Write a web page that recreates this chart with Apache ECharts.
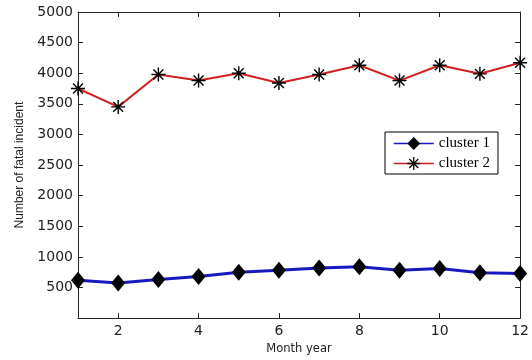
<!DOCTYPE html>
<html>
<head>
<meta charset="utf-8">
<script src="https://cdn.jsdelivr.net/npm/echarts@6/dist/echarts.min.js"></script>
<style>html,body{margin:0;padding:0;background:#fff;}#c{width:532px;height:360px;}</style>
</head>
<body>
<div id="c"></div>
<script>
var months = ['1','2','3','4','5','6','7','8','9','10','11','12'];
var cluster1 = [620, 575, 630, 680, 750, 780, 820, 840, 780, 810, 740, 730];
var cluster2 = [3750, 3450, 3980, 3880, 4000, 3840, 3980, 4130, 3880, 4130, 3990, 4170];
var yTicks = {min: 0, max: 5000, interval: 500};

var starPath = 'path://M-1,-10L1,-10L1,10L-1,10Z M-10,-1L10,-1L10,1L-10,1Z ' +
  'M-6.36,-7.78L7.78,6.36L6.36,7.78L-7.78,-6.36Z ' +
  'M-6.36,7.78L-7.78,6.36L6.36,-7.78L7.78,-6.36Z';

var axisColor = '#222';
var blue = '#1818c0', red = '#d02020';
var evenOnly = function (i) { return i % 2 === 1; };

var chart = echarts.init(document.getElementById('c'), null, {renderer: 'canvas'});
chart.setOption({
  animation: false,
  backgroundColor: '#fff',
  grid: {left: 78, right: 11, top: 12, bottom: 35, containLabel: false},
  legend: {
    orient: 'vertical',
    left: 385, top: 132,
    padding: [4, 8, 3, 8],
    itemGap: 5,
    itemWidth: 40, itemHeight: 16,
    backgroundColor: '#fff',
    borderColor: '#000', borderWidth: 1, borderRadius: 0,
    textStyle: {fontFamily: 'Liberation Serif', fontSize: 15, color: '#000'},
    data: [
      {name: 'cluster 1', lineStyle: {color: blue, width: 1.5}},
      {name: 'cluster 2', lineStyle: {color: red, width: 1.5}}
    ]
  },
  xAxis: [{
    type: 'category', data: months, boundaryGap: false,
    name: 'Month year', nameLocation: 'middle', nameGap: 23,
    nameTextStyle: {fontFamily: 'DejaVu Sans', fontSize: 11.5, color: '#222'},
    axisLine: {onZero: false, lineStyle: {color: axisColor, width: 1}},
    axisTick: {inside: true, length: 5, interval: evenOnly, lineStyle: {color: axisColor}},
    axisLabel: {interval: evenOnly, margin: 6, fontFamily: 'DejaVu Sans', fontSize: 14, color: '#222'},
    splitLine: {show: false}
  }, {
    type: 'category', data: months, boundaryGap: false, position: 'top',
    axisLine: {onZero: false, lineStyle: {color: axisColor, width: 1}},
    axisTick: {inside: true, length: 5, interval: evenOnly, lineStyle: {color: axisColor}},
    axisLabel: {show: false},
    splitLine: {show: false}
  }],
  yAxis: [{
    type: 'value', min: yTicks.min, max: yTicks.max, interval: yTicks.interval,
    name: 'Number of fatal incident', nameLocation: 'middle', nameGap: 52,
    nameTextStyle: {fontFamily: 'Liberation Sans', fontSize: 12, color: '#222'},
    axisLine: {show: true, onZero: false, lineStyle: {color: axisColor, width: 1}},
    axisTick: {show: true, inside: true, length: 5, lineStyle: {color: axisColor}},
    axisLabel: {margin: 5, fontFamily: 'DejaVu Sans', fontSize: 14, color: '#222',
      formatter: function (v) { return v === 0 ? '' : String(v); }},
    splitLine: {show: false}
  }, {
    type: 'value', min: yTicks.min, max: yTicks.max, interval: yTicks.interval, position: 'right',
    axisLine: {show: true, onZero: false, lineStyle: {color: axisColor, width: 1}},
    axisTick: {show: true, inside: true, length: 5, lineStyle: {color: axisColor}},
    axisLabel: {show: false},
    splitLine: {show: false}
  }],
  series: [{
    name: 'cluster 1', type: 'line', data: cluster1,
    symbol: 'diamond', symbolSize: [14, 17],
    itemStyle: {color: '#000'},
    lineStyle: {color: blue, width: 3},
    z: 3
  }, {
    name: 'cluster 2', type: 'line', data: cluster2,
    symbol: starPath, symbolSize: 14,
    itemStyle: {color: '#000'},
    lineStyle: {color: red, width: 2},
    z: 3
  }]
});
</script>
</body>
</html>
